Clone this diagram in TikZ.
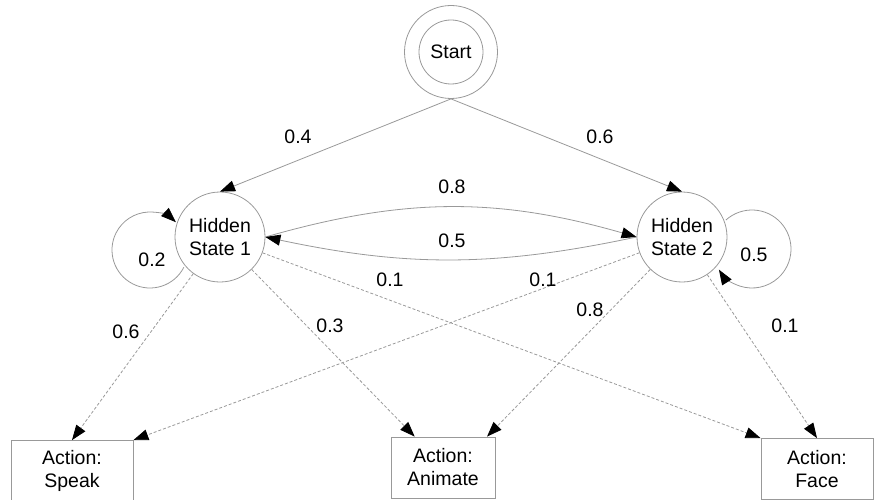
\documentclass[tikz,border=0pt]{standalone}
\usepackage{fontspec}
\setmainfont{Liberation Sans}
\usetikzlibrary{arrows.meta,calc}
\begin{document}
\begin{tikzpicture}[x=1pt,y=-1pt,
  every node/.style={font=\fontsize{19.5}{23}\selectfont},
  edgecol/.style={draw=black!40, line width=0.8pt},
  state/.style={circle, edgecol, minimum size=90pt, inner sep=0pt, align=center},
  action/.style={rectangle, edgecol, inner sep=0pt, align=center, minimum height=61pt},
  tipstyle/.style={-{Triangle[length=15pt,width=11pt,color=black]}},
  trans/.style={edgecol, tipstyle},
  emit/.style={edgecol, tipstyle, dash pattern=on 3pt off 2pt},
  prob/.style={inner sep=0pt}]
\useasboundingbox (0,0) rectangle (875,500);

% states
\node[circle, edgecol, minimum size=93pt] (startout) at (451,52) {};
\node[circle, edgecol, minimum size=64pt, inner sep=0pt] (start) at (451,52) {Start};
\node[state] (h1) at (220,237) {Hidden\\State 1};
\node[state] (h2) at (682,237) {Hidden\\State 2};

% observable actions
\node[action, minimum width=122pt] (speak) at (72,471) {Action:\\Speak};
\node[action, minimum width=104pt] (anim) at (443,467.5) {Action:\\Animate};
\node[action, minimum width=112pt] (face) at (817,469) {Action:\\Face};

% initial probabilities
\draw[trans] (startout.south) -- (h1.north);
\draw[trans] (startout.south) -- (h2.north);
\node[prob] (pi1) at (298,137) {0.4};
\node[prob] (pi2) at (600,137) {0.6};

% transitions between hidden states
\draw[trans] (h1.east) to[bend left=16] (h2.west);
\draw[trans] (h2.west) to[bend left=12] (h1.east);
\node[prob] (a12) at (452,187) {0.8};
\node[prob] (a21) at (452,241) {0.5};

% self transitions
\coordinate (l1) at ($(h1)+(-70,13)$);
\coordinate (l2) at ($(h2)+(70,12)$);
\draw[trans] ([shift={(27:38)}]l1) arc[start angle=27, end angle=313, radius=38];
\draw[trans] ([shift={(-132:39)}]l2) arc[start angle=-132, end angle=148, radius=39];
\node[prob] (a11) at (152,260) {0.2};
\node[prob] (a22) at (754,255) {0.5};

% emissions
\draw[emit] (h1) -- (speak.north);
\draw[emit] (h1) -- ($(anim.north west)!0.23!(anim.north east)$);
\draw[emit] (h1) -- (face.north west);
\draw[emit] (h2) -- (speak.north east);
\draw[emit] (h2) -- ($(anim.north west)!0.92!(anim.north east)$);
\draw[emit] (h2) -- (face.north);
\node[prob] (b1s) at (126,332) {0.6};
\node[prob] (b1a) at (330,326) {0.3};
\node[prob] (b1f) at (390,280) {0.1};
\node[prob] (b2s) at (543,280) {0.1};
\node[prob] (b2a) at (590,310) {0.8};
\node[prob] (b2f) at (785,326) {0.1};
\end{tikzpicture}
\end{document}
